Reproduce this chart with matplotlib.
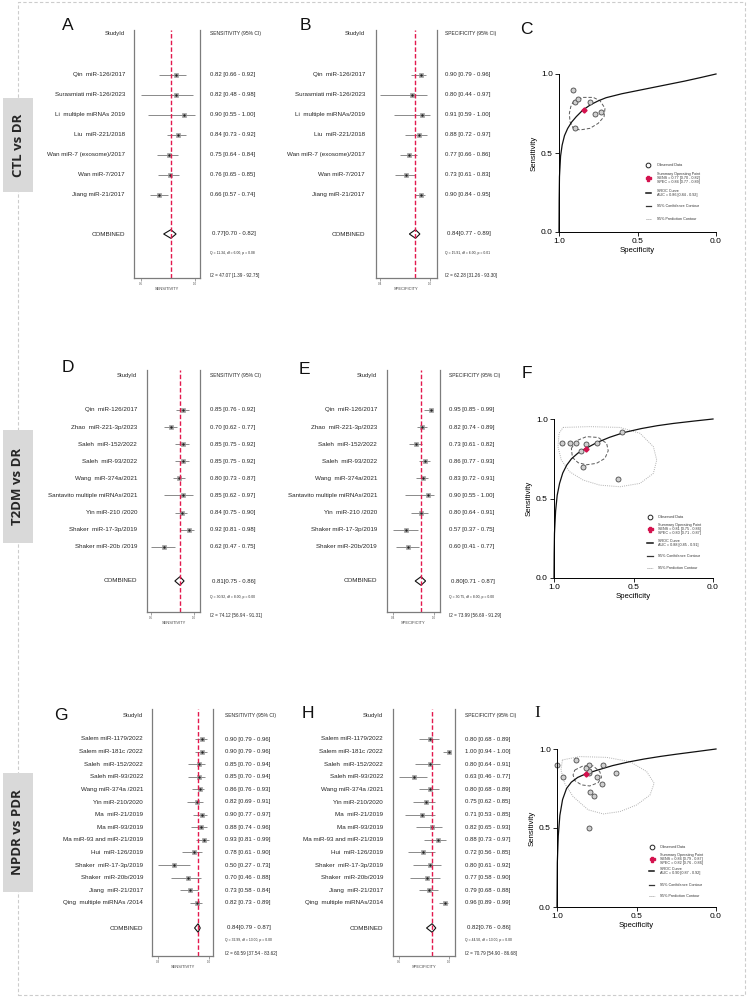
import numpy as np
import matplotlib.pyplot as plt
from matplotlib.patches import Rectangle, Polygon
from matplotlib.transforms import blended_transform_factory

plt.rcParams['font.family'] = ['Liberation Sans', 'DejaVu Sans']

# ---------------- data ----------------
# CTL vs DR
ctl_names_sens = ['Qin  miR-126/2017', 'Surasmiati miR-126/2023', 'Li  multiple miRNAs 2019',
                  'Liu  miR-221/2018', 'Wan miR-7 (exosome)/2017', 'Wan miR-7/2017', 'Jiang miR-21/2017']
ctl_names_spec = ['Qin  miR-126/2017', 'Surasmiati miR-126/2023', 'Li  multiple miRNAs/2019',
                  'Liu  miR-221/2018', 'Wan miR-7 (exosome)/2017', 'Wan miR-7/2017', 'Jiang miR-21/2017']
ctl_sens = [0.82, 0.82, 0.90, 0.84, 0.75, 0.76, 0.66]
ctl_sens_lo = [0.66, 0.48, 0.55, 0.73, 0.64, 0.65, 0.57]
ctl_sens_hi = [0.92, 0.98, 1.00, 0.92, 0.84, 0.85, 0.74]
ctl_spec = [0.90, 0.80, 0.91, 0.88, 0.77, 0.73, 0.90]
ctl_spec_lo = [0.79, 0.44, 0.59, 0.72, 0.66, 0.61, 0.84]
ctl_spec_hi = [0.96, 0.97, 1.00, 0.97, 0.86, 0.83, 0.95]
ctl_pool_sens = [0.77, 0.70, 0.82]
ctl_pool_spec = [0.84, 0.77, 0.89]
ctl_het_sens = ['Q = 11.34, df = 6.00, p = 0.08', 'I2 = 47.07 [1.39 - 92.75]']
ctl_het_spec = ['Q = 15.91, df = 6.00, p = 0.01', 'I2 = 62.28 [31.26 - 93.30]']
ctl_auc = 'AUC = 0.86 [0.84 - 0.92]'
ctl_sroc_spec = [1.0, 0.999, 0.997, 0.99, 0.98, 0.965, 0.945, 0.92, 0.89, 0.85, 0.80, 0.75, 0.70,
                 0.60, 0.50, 0.40, 0.30, 0.20, 0.10, 0.0]
ctl_sroc_sens = [0.0, 0.20, 0.35, 0.48, 0.55, 0.61, 0.655, 0.695, 0.73, 0.77, 0.805, 0.83, 0.85,
                 0.875, 0.895, 0.915, 0.935, 0.955, 0.977, 1.0]
ctl_conf_spec = [0.909, 0.845, 0.782, 0.739, 0.707, 0.713, 0.750, 0.803, 0.866, 0.909, 0.930, 0.934, 0.925]
ctl_conf_sens = [0.825, 0.852, 0.852, 0.831, 0.783, 0.730, 0.688, 0.656, 0.646, 0.656, 0.698, 0.751, 0.793]

# T2DM vs DR
t2_names_sens = ['Qin  miR-126/2017', 'Zhao  miR-221-3p/2023', 'Saleh  miR-152/2022', 'Saleh  miR-93/2022',
                 'Wang  miR-374a/2021', 'Santavito multiple miRNAs/2021', 'Yin miR-210 /2020',
                 'Shaker  miR-17-3p/2019', 'Shaker miR-20b /2019']
t2_names_spec = ['Qin  miR-126/2017', 'Zhao  miR-221-3p/2023', 'Saleh  miR-152/2022', 'Saleh  miR-93/2022',
                 'Wang  miR-374a/2021', 'Santavito multiple miRNAs/2021', 'Yin  miR-210 /2020',
                 'Shaker miR-17-3p/2019', 'Shaker miR-20b/2019']
t2_sens = [0.85, 0.70, 0.85, 0.85, 0.80, 0.85, 0.84, 0.92, 0.62]
t2_sens_lo = [0.76, 0.62, 0.75, 0.75, 0.73, 0.62, 0.75, 0.81, 0.47]
t2_sens_hi = [0.92, 0.77, 0.92, 0.92, 0.87, 0.97, 0.90, 0.98, 0.75]
t2_spec = [0.95, 0.82, 0.73, 0.86, 0.83, 0.90, 0.80, 0.57, 0.60]
t2_spec_lo = [0.85, 0.74, 0.61, 0.77, 0.72, 0.55, 0.64, 0.37, 0.41]
t2_spec_hi = [0.99, 0.89, 0.82, 0.93, 0.91, 1.00, 0.91, 0.75, 0.77]
t2_pool_sens = [0.81, 0.75, 0.86]
t2_pool_spec = [0.80, 0.71, 0.87]
t2_het_sens = ['Q = 30.92, df = 8.00, p = 0.00', 'I2 = 74.12 [56.94 - 91.31]']
t2_het_spec = ['Q = 30.75, df = 8.00, p = 0.00', 'I2 = 73.99 [56.69 - 91.29]']
t2_auc = 'AUC = 0.88 [0.85 - 0.91]'
t2_sroc_spec = [1.0, 0.999, 0.997, 0.99, 0.98, 0.965, 0.945, 0.92, 0.89, 0.85, 0.80, 0.73, 0.65,
                0.56, 0.45, 0.35, 0.25, 0.12, 0.0]
t2_sroc_sens = [0.0, 0.15, 0.28, 0.42, 0.52, 0.595, 0.66, 0.71, 0.75, 0.785, 0.815, 0.852, 0.885,
                0.915, 0.94, 0.958, 0.972, 0.987, 1.0]
t2_conf_spec = [0.891, 0.859, 0.796, 0.722, 0.669, 0.659, 0.680, 0.733, 0.796, 0.848, 0.884]
t2_conf_sens = [0.815, 0.863, 0.889, 0.884, 0.847, 0.800, 0.752, 0.721, 0.712, 0.725, 0.758]
t2_pred_spec = [0.943, 0.775, 0.585, 0.459, 0.375, 0.354, 0.375, 0.459, 0.585, 0.712, 0.817,
                0.901, 0.954, 0.975, 0.968]
t2_pred_sens = [0.947, 0.952, 0.947, 0.910, 0.826, 0.742, 0.658, 0.595, 0.574, 0.584, 0.616,
                0.668, 0.742, 0.826, 0.910]

# NPDR vs PDR
np_names_sens = ['Salem miR-1179/2022', 'Salem miR-181c /2022', 'Saleh  miR-152/2022', 'Saleh miR-93/2022',
                 'Wang miR-374a /2021', 'Yin miR-210/2020', 'Ma  miR-21/2019', 'Ma miR-93/2019',
                 'Ma miR-93 and miR-21/2019', 'Hui  miR-126/2019', 'Shaker  miR-17-3p/2019',
                 'Shaker  miR-20b/2019', 'Jiang  miR-21/2017', 'Qing  multiple miRNAs /2014']
np_names_spec = ['Salem miR-1179/2022', 'Salem miR-181c /2022', 'Saleh  miR-152/2022', 'Saleh miR-93/2022',
                 'Wang miR-374a /2021', 'Yin miR-210/2020', 'Ma  miR-21/2019', 'Ma miR-93/2019',
                 'Ma miR-93 and miR-21/2019', 'Hui  miR-126/2019', 'Shaker  miR-17-3p/2019',
                 'Shaker  miR-20b/2019', 'Jiang  miR-21/2017', 'Qing  multiple miRNAs/2014']
np_sens = [0.90, 0.90, 0.85, 0.85, 0.86, 0.82, 0.90, 0.88, 0.93, 0.78, 0.50, 0.70, 0.73, 0.82]
np_sens_lo = [0.79, 0.79, 0.70, 0.70, 0.76, 0.69, 0.77, 0.74, 0.81, 0.61, 0.27, 0.46, 0.58, 0.73]
np_sens_hi = [0.96, 0.96, 0.94, 0.94, 0.93, 0.91, 0.97, 0.96, 0.99, 0.90, 0.73, 0.88, 0.84, 0.89]
np_spec = [0.80, 1.00, 0.80, 0.63, 0.80, 0.75, 0.71, 0.82, 0.88, 0.72, 0.80, 0.77, 0.79, 0.96]
np_spec_lo = [0.68, 0.94, 0.64, 0.46, 0.68, 0.62, 0.53, 0.65, 0.73, 0.56, 0.61, 0.58, 0.68, 0.89]
np_spec_hi = [0.89, 1.00, 0.91, 0.77, 0.89, 0.85, 0.85, 0.93, 0.97, 0.85, 0.92, 0.90, 0.88, 0.99]
np_pool_sens = [0.84, 0.79, 0.87]
np_pool_spec = [0.82, 0.76, 0.86]
np_het_sens = ['Q = 32.99, df = 13.00, p = 0.00', 'I2 = 60.59 [37.54 - 83.62]']
np_het_spec = ['Q = 44.50, df = 13.00, p = 0.00', 'I2 = 70.79 [54.90 - 86.68]']
np_auc = 'AUC = 0.90 [0.87 - 0.92]'
np_sroc_spec = [1.0, 0.999, 0.998, 0.992, 0.982, 0.965, 0.94, 0.91, 0.87, 0.825, 0.75, 0.65, 0.55,
                0.45, 0.35, 0.25, 0.12, 0.0]
np_sroc_sens = [0.0, 0.15, 0.28, 0.45, 0.58, 0.68, 0.75, 0.79, 0.82, 0.84, 0.865, 0.895, 0.918,
                0.937, 0.953, 0.967, 0.984, 1.0]
np_conf_spec = [0.888, 0.836, 0.773, 0.731, 0.720, 0.741, 0.794, 0.846, 0.888, 0.899]
np_conf_sens = [0.867, 0.893, 0.893, 0.857, 0.821, 0.787, 0.766, 0.773, 0.800, 0.836]
np_pred_spec = [0.966, 0.857, 0.688, 0.541, 0.436, 0.389, 0.415, 0.499, 0.604, 0.709, 0.804,
                0.899, 0.952, 0.975]
np_pred_sens = [0.931, 0.952, 0.947, 0.920, 0.857, 0.783, 0.709, 0.646, 0.604, 0.589, 0.615,
                0.699, 0.783, 0.867]

row_titles = ['CTL vs DR', 'T2DM vs DR', 'NPDR vs PDR']

# ---------------- layout helpers ----------------
W, H = 747, 998
fig = plt.figure(figsize=(7.47, 9.98), dpi=100)
TXT = '#262626'
GREY = '#7c7c7c'


def fx(px):
    return px / W


def fy(py):
    return 1 - py / H


def forest(box, rows, names, est, lo, hi, pool, het, col_title, xlabel, xlim, lab_x, val_x):
    x0, x1, y0, y1 = box
    header, first, dy, comb, het_y = rows
    ax = fig.add_axes([fx(x0), fy(y1), (x1 - x0) / W, (y1 - y0) / H])
    ax.set_xlim(xlim)
    ax.set_ylim((y1 - first) / dy, (y0 - first) / dy)
    r = lambda py: (py - first) / dy
    ypos = np.arange(len(est))
    ax.hlines(ypos, lo, hi, color='#8a8a8a', lw=0.7)
    ax.plot(est, ypos, 's', ms=3.4, mfc='#b4b4b4', mec='#8c8c8c', mew=0.4)
    ax.plot(est, ypos, '.', ms=1.6, color='#222222')
    ax.axvline(pool[0], color='#e3194d', lw=1.0, ls=(0, (3.2, 1.6)))
    hd = 4.3 / dy
    rc = r(comb)
    ax.add_patch(Polygon([(pool[1], rc), (pool[0], rc - hd), (pool[2], rc), (pool[0], rc + hd)],
                         closed=True, fill=False, ec='#111111', lw=0.8))
    for s in ['left', 'right', 'bottom']:
        ax.spines[s].set_color(GREY)
        ax.spines[s].set_linewidth(0.9)
    ax.spines['top'].set_visible(False)
    ax.set_yticks([])
    ticks = [min(lo), max(hi)]
    ax.set_xticks(ticks, ['%.1f' % t for t in ticks])
    ax.tick_params(axis='x', labelsize=2.2, length=2, width=0.5, color=GREY, labelcolor='#555555', pad=1)
    ax.set_xlabel(xlabel, fontsize=2.9, color='#444444', labelpad=0.5)
    tr = blended_transform_factory(fig.transFigure, ax.transData)
    kw = dict(transform=tr, va='center', color=TXT, clip_on=False)
    ax.text(fx(lab_x), r(header), 'StudyId', ha='right', fontsize=4.2, **kw)
    ax.text(fx(val_x), r(header), col_title, ha='left', fontsize=3.6, **kw)
    for i, nm in enumerate(names):
        ax.text(fx(lab_x), ypos[i], nm, ha='right', fontsize=4.5, **kw)
        ax.text(fx(val_x), ypos[i], '%.2f [%.2f - %.2f]' % (est[i], lo[i], hi[i]),
                ha='left', fontsize=4.3, **kw)
    ax.text(fx(lab_x), rc, 'COMBINED', ha='right', fontsize=4.5, **kw)
    ax.text(fx(val_x + 2), rc, '%.2f[%.2f - %.2f]' % tuple(pool), ha='left', fontsize=4.3, **kw)
    ax.text(fx(val_x), r(het_y[0]), het[0], ha='left', fontsize=2.4, **kw)
    ax.text(fx(val_x), r(het_y[1]), het[1], ha='left', fontsize=3.3, **kw)
    return ax


def sroc(box, spec, sens, pool_sens, pool_spec, auc, curve, conf, pred, leg):
    x0, x1, y0, y1 = box
    ax = fig.add_axes([fx(x0), fy(y1), (x1 - x0) / W, (y1 - y0) / H])
    ax.set_xlim(1.0, 0.0)
    ax.set_ylim(0.0, 1.0)
    if pred is not None:
        ax.add_patch(Polygon(np.column_stack(pred), closed=True, fill=False, ec='#b0b0b0',
                             lw=0.7, ls=(0, (1, 1.2))))
    ax.add_patch(Polygon(np.column_stack(conf), closed=True, fill=False, ec='#5a5a5a',
                         lw=0.7, ls=(0, (3.5, 2))))
    ax.plot(curve[0], curve[1], color='#111111', lw=0.9, clip_on=False)
    ax.plot(spec, sens, 'o', ms=3.6, mfc='#cfcfcf', mec='#4a4a4a', mew=0.6, clip_on=False)
    ax.plot([pool_spec[0]], [pool_sens[0]], 'D', ms=2.6, color='#d4124e', clip_on=False)
    for s in ['top', 'right']:
        ax.spines[s].set_visible(False)
    for s in ['left', 'bottom']:
        ax.spines[s].set_linewidth(0.7)
    ax.set_xticks([1.0, 0.5, 0.0], ['1.0', '0.5', '0.0'])
    ax.set_yticks([0.0, 0.5, 1.0], ['0.0', '0.5', '1.0'])
    ax.tick_params(labelsize=6, length=3, width=0.6, pad=1.5)
    ax.set_xlabel('Specificity', fontsize=5.6, labelpad=1.5)
    ax.set_ylabel('Sensitivity', fontsize=5.6, labelpad=2)
    mx, tx, ly = leg
    t = ax.transAxes
    ax.plot([mx], [ly[0]], 'o', ms=3.4, mfc='white', mec='#222222', mew=0.7, transform=t, clip_on=False)
    ax.plot([mx], [ly[1]], 'P', ms=3.6, color='#d4124e', transform=t, clip_on=False)
    ax.plot([mx - 0.016, mx + 0.016], [ly[2]] * 2, color='#111111', lw=1.1, transform=t, clip_on=False)
    ax.plot([mx - 0.016, mx + 0.016], [ly[3]] * 2, color='#333333', lw=0.9, transform=t, clip_on=False)
    ax.plot([mx - 0.018, mx + 0.018], [ly[4]] * 2, color='#9a9a9a', lw=0.7, ls=(0, (1, 1)),
            transform=t, clip_on=False)
    texts = ['Observed Data',
             'Summary Operating Point\nSENS = %.2f [%.2f - %.2f]\nSPEC = %.2f [%.2f - %.2f]'
             % (tuple(pool_sens) + tuple(pool_spec)),
             'SROC Curve\n' + auc,
             '95% Confidence Contour',
             '95% Prediction Contour']
    for y, s in zip(ly, texts):
        ax.text(tx, y, s, fontsize=2.7, ha='left', va='center', transform=t, color='#333333',
                linespacing=1.0)
    return ax


# outer dashed frame and row labels
fig.add_artist(Rectangle((fx(18), fy(995)), (745 - 18) / W, (995 - 2) / H, transform=fig.transFigure,
                         fill=False, ec='#cccccc', lw=0.8, ls=(0, (3, 2))))
for (ya, yb), title in zip([(98, 192), (430, 543), (773, 892)], row_titles):
    fig.add_artist(Rectangle((fx(3), fy(yb)), 30 / W, (yb - ya) / H, transform=fig.transFigure,
                             fc='#d9d9d9', ec='none'))
    fig.text(fx(18), fy((ya + yb) / 2), title, rotation=90, ha='center', va='center',
             fontsize=9.5, fontweight='bold', family=['Open Sans', 'DejaVu Sans'], color='#262626')

# panel letters
for s, x, y in [('A', 68, 25), ('B', 305, 26), ('C', 526, 30),
                ('D', 68, 367), ('E', 304, 370), ('F', 527, 373),
                ('G', 61, 715), ('H', 308, 714)]:
    fig.text(fx(x), fy(y), s, fontsize=12.5, ha='center', va='center', color='#111111')
fig.text(fx(537), fy(713), 'I', fontsize=12.5, ha='center', va='center', color='#111111',
         family=['Liberation Serif', 'DejaVu Serif'])

rows_a = (34, 75, 20, 234, (253, 275))
rows_d = (376, 410, 17.1, 581, (597, 615))
rows_g = (716, 739, 12.6, 928, (940, 953))

forest((134, 200, 30, 278), rows_a, ctl_names_sens, ctl_sens, ctl_sens_lo, ctl_sens_hi, ctl_pool_sens,
       ctl_het_sens, 'SENSITIVITY (95% CI)', 'SENSITIVITY', (0.415, 1.05), 125, 210)
forest((376, 437, 30, 278), rows_a, ctl_names_spec, ctl_spec, ctl_spec_lo, ctl_spec_hi, ctl_pool_spec,
       ctl_het_spec, 'SPECIFICITY (95% CI)', 'SPECIFICITY', (0.39, 1.085), 365, 445)
forest((147, 200, 370, 612), rows_d, t2_names_sens, t2_sens, t2_sens_lo, t2_sens_hi, t2_pool_sens,
       t2_het_sens, 'SENSITIVITY (95% CI)', 'SENSITIVITY', (0.418, 1.05), 137, 210)
forest((387, 440, 370, 612), rows_d, t2_names_spec, t2_spec, t2_spec_lo, t2_spec_hi, t2_pool_spec,
       t2_het_spec, 'SPECIFICITY (95% CI)', 'SPECIFICITY', (0.28, 1.09), 377, 449)
forest((152, 213, 709, 956), rows_g, np_names_sens, np_sens, np_sens_lo, np_sens_hi, np_pool_sens,
       np_het_sens, 'SENSITIVITY (95% CI)', 'SENSITIVITY', (0.19, 1.05), 143, 225)
forest((393, 455, 709, 956), rows_g, np_names_spec, np_spec, np_spec_lo, np_spec_hi, np_pool_spec,
       np_het_spec, 'SPECIFICITY (95% CI)', 'SPECIFICITY', (0.40, 1.066), 383, 465)

sroc((559, 716, 74, 232), ctl_spec, ctl_sens, ctl_pool_sens, ctl_pool_spec, ctl_auc,
     (ctl_sroc_spec, ctl_sroc_sens), (ctl_conf_spec, ctl_conf_sens), None,
     (0.569, 0.626, [0.424, 0.34, 0.249, 0.165, 0.082]))
sroc((554, 713, 419, 578), t2_spec, t2_sens, t2_pool_sens, t2_pool_spec, t2_auc,
     (t2_sroc_spec, t2_sroc_sens), (t2_conf_spec, t2_conf_sens), (t2_pred_spec, t2_pred_sens),
     (0.604, 0.657, [0.384, 0.307, 0.223, 0.139, 0.063]))
sroc((557, 716, 749, 907), np_spec, np_sens, np_pool_sens, np_pool_spec, np_auc,
     (np_sroc_spec, np_sroc_sens), (np_conf_spec, np_conf_sens), (np_pred_spec, np_pred_sens),
     (0.596, 0.648, [0.379, 0.303, 0.225, 0.141, 0.067]))

fig.savefig('out.png', dpi=100, facecolor='white')
